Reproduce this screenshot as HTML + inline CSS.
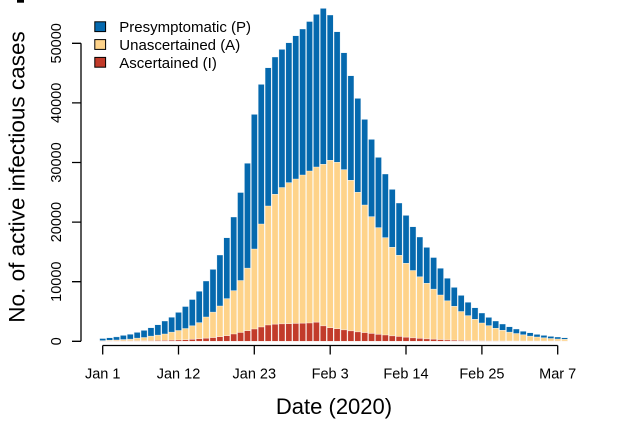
<!DOCTYPE html>
<html><head><meta charset="utf-8"><style>
html,body{margin:0;padding:0;background:#fff;}
svg{display:block;}
text{font-family:"Liberation Sans",Arial,sans-serif;fill:#000;}
.bars path{stroke:#fff;stroke-width:0.6;stroke-opacity:0.75;}
</style></head><body>
<svg width="622" height="425" viewBox="0 0 622 425" xmlns="http://www.w3.org/2000/svg">
<rect x="17" y="0" width="7" height="2.7" fill="#000"/>
<g class="bars">
<path fill="#0569ae" d="M99.6 338.5h6.2V341.3h-6.2zM106.49 337.7h6.2V341.3h-6.2zM113.39 336.8h6.2V341.3h-6.2zM120.28 335.3h6.2V341.3h-6.2zM127.18 334.2h6.2V341.3h-6.2zM134.07 332.3h6.2V341.3h-6.2zM140.96 330.3h6.2V341.3h-6.2zM147.86 327.7h6.2V341.3h-6.2zM154.75 324.7h6.2V341.3h-6.2zM161.65 321h6.2V341.3h-6.2zM168.54 317.2h6.2V341.3h-6.2zM175.43 312.3h6.2V341.3h-6.2zM182.33 306.5h6.2V341.3h-6.2zM189.22 299.5h6.2V341.3h-6.2zM196.12 291.2h6.2V341.3h-6.2zM203.01 281h6.2V341.3h-6.2zM209.9 269.3h6.2V341.3h-6.2zM216.8 255h6.2V341.3h-6.2zM223.69 237.7h6.2V341.3h-6.2zM230.59 217h6.2V341.3h-6.2zM237.48 192.5h6.2V341.3h-6.2zM244.37 163.2h6.2V341.3h-6.2zM251.27 114.3h6.2V341.3h-6.2zM258.16 84.3h6.2V341.3h-6.2zM265.06 67.7h6.2V341.3h-6.2zM271.95 57h6.2V341.3h-6.2zM278.84 49.3h6.2V341.3h-6.2zM285.74 42.7h6.2V341.3h-6.2zM292.63 35.7h6.2V341.3h-6.2zM299.53 29h6.2V341.3h-6.2zM306.42 21.5h6.2V341.3h-6.2zM313.31 14.3h6.2V341.3h-6.2zM320.21 8.3h6.2V341.3h-6.2zM327.1 15h6.2V341.3h-6.2zM334 31.7h6.2V341.3h-6.2zM340.89 52.7h6.2V341.3h-6.2zM347.78 75.7h6.2V341.3h-6.2zM354.68 98.3h6.2V341.3h-6.2zM361.57 119.3h6.2V341.3h-6.2zM368.47 139.3h6.2V341.3h-6.2zM375.36 157.3h6.2V341.3h-6.2zM382.25 174h6.2V341.3h-6.2zM389.15 189.3h6.2V341.3h-6.2zM396.04 203h6.2V341.3h-6.2zM402.94 215.3h6.2V341.3h-6.2zM409.83 226.7h6.2V341.3h-6.2zM416.72 237h6.2V341.3h-6.2zM423.62 247.3h6.2V341.3h-6.2zM430.51 257.5h6.2V341.3h-6.2zM437.41 268.2h6.2V341.3h-6.2zM444.3 278.2h6.2V341.3h-6.2zM451.19 287.3h6.2V341.3h-6.2zM458.09 295.3h6.2V341.3h-6.2zM464.98 302.2h6.2V341.3h-6.2zM471.88 307.7h6.2V341.3h-6.2zM478.77 313h6.2V341.3h-6.2zM485.66 317.3h6.2V341.3h-6.2zM492.56 321h6.2V341.3h-6.2zM499.45 324h6.2V341.3h-6.2zM506.35 326.7h6.2V341.3h-6.2zM513.24 329h6.2V341.3h-6.2zM520.13 331.2h6.2V341.3h-6.2zM527.03 332.7h6.2V341.3h-6.2zM533.92 334.3h6.2V341.3h-6.2zM540.82 335.3h6.2V341.3h-6.2zM547.71 336.3h6.2V341.3h-6.2zM554.6 337h6.2V341.3h-6.2zM561.5 337.7h6.2V341.3h-6.2z"/>
<path fill="#fed38a" d="M99.6 340.7h6.2V341.3h-6.2zM106.49 340.3h6.2V341.3h-6.2zM113.39 340h6.2V341.3h-6.2zM120.28 339.6h6.2V341.3h-6.2zM127.18 339.2h6.2V341.3h-6.2zM134.07 338.2h6.2V341.3h-6.2zM140.96 337.5h6.2V341.3h-6.2zM147.86 336.2h6.2V341.3h-6.2zM154.75 335.2h6.2V341.3h-6.2zM161.65 334h6.2V341.3h-6.2zM168.54 332.2h6.2V341.3h-6.2zM175.43 330.5h6.2V341.3h-6.2zM182.33 328.5h6.2V341.3h-6.2zM189.22 325.8h6.2V341.3h-6.2zM196.12 322.7h6.2V341.3h-6.2zM203.01 317h6.2V341.3h-6.2zM209.9 312.2h6.2V341.3h-6.2zM216.8 306h6.2V341.3h-6.2zM223.69 298.7h6.2V341.3h-6.2zM230.59 290.7h6.2V341.3h-6.2zM237.48 280.5h6.2V341.3h-6.2zM244.37 268.2h6.2V341.3h-6.2zM251.27 249h6.2V341.3h-6.2zM258.16 224h6.2V341.3h-6.2zM265.06 206h6.2V341.3h-6.2zM271.95 194.3h6.2V341.3h-6.2zM278.84 187.5h6.2V341.3h-6.2zM285.74 182.7h6.2V341.3h-6.2zM292.63 179h6.2V341.3h-6.2zM299.53 175h6.2V341.3h-6.2zM306.42 171h6.2V341.3h-6.2zM313.31 167h6.2V341.3h-6.2zM320.21 164.3h6.2V341.3h-6.2zM327.1 160.3h6.2V341.3h-6.2zM334 162.3h6.2V341.3h-6.2zM340.89 169.7h6.2V341.3h-6.2zM347.78 180.3h6.2V341.3h-6.2zM354.68 192.3h6.2V341.3h-6.2zM361.57 205h6.2V341.3h-6.2zM368.47 216.7h6.2V341.3h-6.2zM375.36 227.7h6.2V341.3h-6.2zM382.25 237.7h6.2V341.3h-6.2zM389.15 247.3h6.2V341.3h-6.2zM396.04 255.3h6.2V341.3h-6.2zM402.94 263.3h6.2V341.3h-6.2zM409.83 270.5h6.2V341.3h-6.2zM416.72 276.8h6.2V341.3h-6.2zM423.62 283.3h6.2V341.3h-6.2zM430.51 289.2h6.2V341.3h-6.2zM437.41 295h6.2V341.3h-6.2zM444.3 300.8h6.2V341.3h-6.2zM451.19 306.3h6.2V341.3h-6.2zM458.09 311.5h6.2V341.3h-6.2zM464.98 315.7h6.2V341.3h-6.2zM471.88 319.3h6.2V341.3h-6.2zM478.77 323h6.2V341.3h-6.2zM485.66 325.7h6.2V341.3h-6.2zM492.56 328.3h6.2V341.3h-6.2zM499.45 330.3h6.2V341.3h-6.2zM506.35 332.2h6.2V341.3h-6.2zM513.24 333.5h6.2V341.3h-6.2zM520.13 334.8h6.2V341.3h-6.2zM527.03 336.2h6.2V341.3h-6.2zM533.92 337h6.2V341.3h-6.2zM540.82 337.8h6.2V341.3h-6.2zM547.71 338.5h6.2V341.3h-6.2zM554.6 339h6.2V341.3h-6.2zM561.5 339.3h6.2V341.3h-6.2z"/>
<path fill="#c23b2a" d="M99.6 341h6.2V341.3h-6.2zM106.49 341h6.2V341.3h-6.2zM113.39 340.9h6.2V341.3h-6.2zM120.28 340.9h6.2V341.3h-6.2zM127.18 340.8h6.2V341.3h-6.2zM134.07 340.8h6.2V341.3h-6.2zM140.96 340.7h6.2V341.3h-6.2zM147.86 340.6h6.2V341.3h-6.2zM154.75 340.5h6.2V341.3h-6.2zM161.65 340.4h6.2V341.3h-6.2zM168.54 340.2h6.2V341.3h-6.2zM175.43 340h6.2V341.3h-6.2zM182.33 339.7h6.2V341.3h-6.2zM189.22 339.3h6.2V341.3h-6.2zM196.12 338.7h6.2V341.3h-6.2zM203.01 338.2h6.2V341.3h-6.2zM209.9 337.6h6.2V341.3h-6.2zM216.8 336.7h6.2V341.3h-6.2zM223.69 335.7h6.2V341.3h-6.2zM230.59 334h6.2V341.3h-6.2zM237.48 332.5h6.2V341.3h-6.2zM244.37 330.7h6.2V341.3h-6.2zM251.27 329h6.2V341.3h-6.2zM258.16 327h6.2V341.3h-6.2zM265.06 325h6.2V341.3h-6.2zM271.95 324.2h6.2V341.3h-6.2zM278.84 323.8h6.2V341.3h-6.2zM285.74 323.7h6.2V341.3h-6.2zM292.63 323.4h6.2V341.3h-6.2zM299.53 323.2h6.2V341.3h-6.2zM306.42 323h6.2V341.3h-6.2zM313.31 322.2h6.2V341.3h-6.2zM320.21 325.8h6.2V341.3h-6.2zM327.1 327.7h6.2V341.3h-6.2zM334 328.7h6.2V341.3h-6.2zM340.89 329.8h6.2V341.3h-6.2zM347.78 330.8h6.2V341.3h-6.2zM354.68 331.8h6.2V341.3h-6.2zM361.57 332.6h6.2V341.3h-6.2zM368.47 333.4h6.2V341.3h-6.2zM375.36 334.3h6.2V341.3h-6.2zM382.25 335h6.2V341.3h-6.2zM389.15 335.8h6.2V341.3h-6.2zM396.04 336.5h6.2V341.3h-6.2zM402.94 337.2h6.2V341.3h-6.2zM409.83 337.8h6.2V341.3h-6.2zM416.72 338.3h6.2V341.3h-6.2zM423.62 338.8h6.2V341.3h-6.2zM430.51 339.2h6.2V341.3h-6.2zM437.41 339.6h6.2V341.3h-6.2zM444.3 339.9h6.2V341.3h-6.2zM451.19 340.2h6.2V341.3h-6.2zM458.09 340.4h6.2V341.3h-6.2zM464.98 340.6h6.2V341.3h-6.2zM471.88 340.7h6.2V341.3h-6.2zM478.77 340.8h6.2V341.3h-6.2zM485.66 340.9h6.2V341.3h-6.2zM492.56 341h6.2V341.3h-6.2zM499.45 341h6.2V341.3h-6.2zM506.35 341.1h6.2V341.3h-6.2zM513.24 341.1h6.2V341.3h-6.2zM520.13 341.1h6.2V341.3h-6.2zM527.03 341.1h6.2V341.3h-6.2zM533.92 341.1h6.2V341.3h-6.2zM540.82 341.1h6.2V341.3h-6.2zM547.71 341.1h6.2V341.3h-6.2zM554.6 341.1h6.2V341.3h-6.2zM561.5 341.1h6.2V341.3h-6.2z"/>
</g>
<!-- Y axis -->
<g stroke="#000" stroke-width="1.3" fill="none">
<path d="M81 341.3V43.3"/>
<path d="M72 341.3H81M72 281.7H81M72 222.1H81M72 162.5H81M72 102.9H81M72 43.3H81"/>
<!-- X axis -->
<path d="M102.7 345.5H557.7"/>
<path d="M102.7 345.5V354.5M178.5 345.5V354.5M254.3 345.5V354.5M330.2 345.5V354.5M406 345.5V354.5M481.9 345.5V354.5M557.7 345.5V354.5"/>
</g>
<g font-size="14.5" text-anchor="middle">
<text transform="translate(61,341.3) rotate(-90)">0</text>
<text transform="translate(61,281.7) rotate(-90)">10000</text>
<text transform="translate(61,222.1) rotate(-90)">20000</text>
<text transform="translate(61,162.5) rotate(-90)">30000</text>
<text transform="translate(61,102.9) rotate(-90)">40000</text>
<text transform="translate(61,43.3) rotate(-90)">50000</text>
<text x="102.7" y="378.5">Jan 1</text>
<text x="178.5" y="378.5">Jan 12</text>
<text x="254.3" y="378.5">Jan 23</text>
<text x="330.2" y="378.5">Feb 3</text>
<text x="406" y="378.5">Feb 14</text>
<text x="481.9" y="378.5">Feb 25</text>
<text x="557.7" y="378.5">Mar 7</text>
</g>
<text x="334" y="414" font-size="22" text-anchor="middle">Date (2020)</text>
<text transform="translate(24.5,177) rotate(-90)" font-size="22.5" text-anchor="middle">No. of active infectious cases</text>
<!-- Legend -->
<g stroke="#000" stroke-width="1">
<rect x="94.8" y="21.8" width="10.8" height="9.8" fill="#0569ae"/>
<rect x="94.8" y="39.6" width="10.8" height="9.8" fill="#fed38a"/>
<rect x="94.8" y="57.4" width="10.8" height="9.8" fill="#c23b2a"/>
</g>
<g font-size="15">
<text x="119.3" y="32">Presymptomatic (P)</text>
<text x="119.3" y="50">Unascertained (A)</text>
<text x="119.3" y="68">Ascertained (I)</text>
</g>
</svg>
</body></html>
